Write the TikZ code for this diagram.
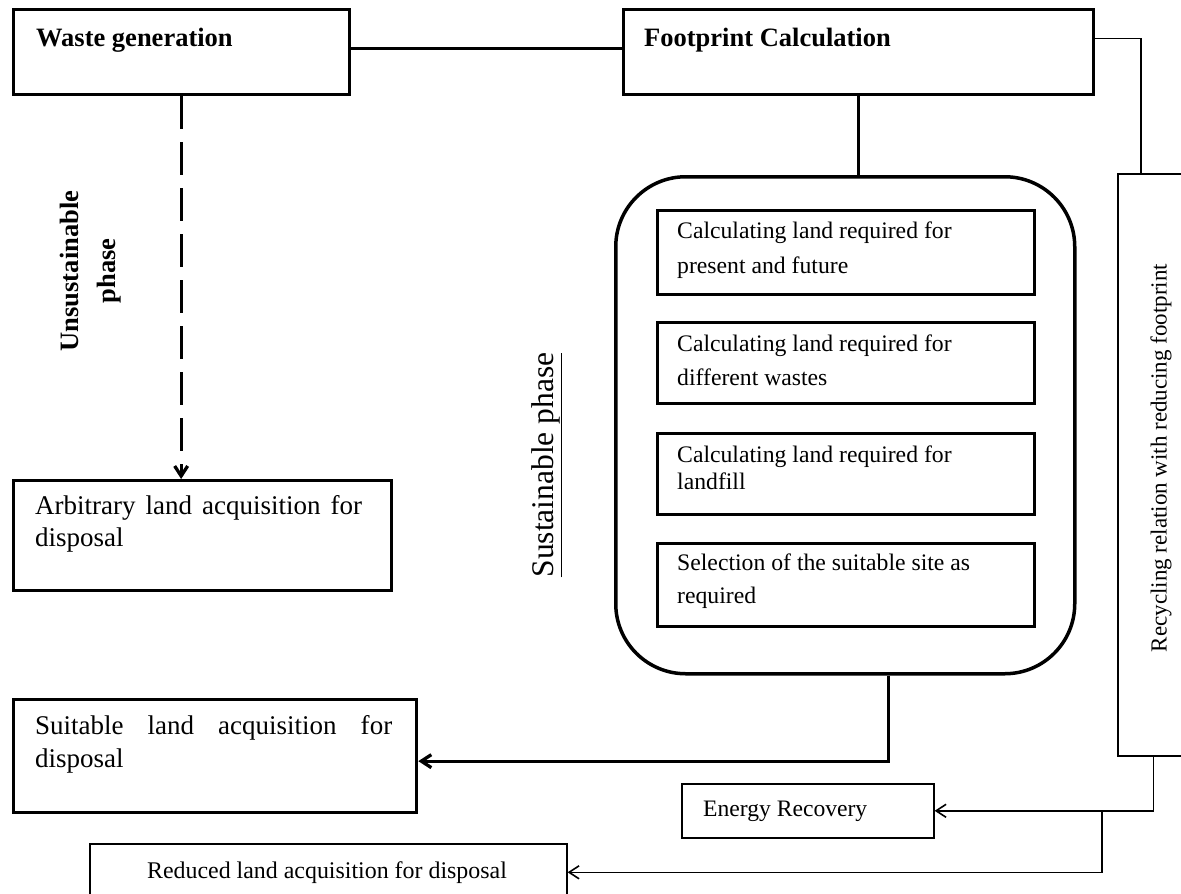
\documentclass[tikz,border=0pt]{standalone}
\usepackage{fontspec}
\setmainfont{Liberation Serif}
\usetikzlibrary{arrows.meta}
\begin{document}
\begin{tikzpicture}[x=1pt,y=-1pt,
  thickbox/.style={draw, line width=3.3pt, inner sep=0pt, anchor=north west},
  thinbox/.style={draw, line width=1.6pt, inner sep=0pt, anchor=north west},
  thickline/.style={line width=3.3pt},
  thinline/.style={line width=1.6pt},
  arr/.style={-{Straight Barb[length=10pt,width=13pt]}},
  boldtxt/.style={font=\fontsize{26.5}{37}\selectfont\bfseries},
  intxt/.style={anchor=west, align=left},
]
\useasboundingbox (0,0) rectangle (1181,894);

% boxes
\node[thickbox, minimum width=336pt, minimum height=85pt] (waste) at (11.5,8) {};
\node[thickbox, minimum width=470pt, minimum height=85pt] (foot) at (622,8) {};
\node[thinbox, minimum width=90pt, minimum height=582pt] (recyc) at (1117,173) {};
\node[draw, line width=3.5pt, inner sep=0pt, anchor=north west, rounded corners=70pt,
      minimum width=459pt, minimum height=497pt] (phase) at (614,175) {};
\node[thickbox, minimum width=377pt, minimum height=84pt] (in1) at (656,209) {};
\node[thickbox, minimum width=377pt, minimum height=81pt] (in2) at (656,321) {};
\node[thickbox, minimum width=377pt, minimum height=81pt] (in3) at (656,432) {};
\node[thickbox, minimum width=377pt, minimum height=83pt] (in4) at (656,542) {};
\node[thickbox, minimum width=378pt, minimum height=110pt] (arb) at (12,479) {};
\node[thickbox, minimum width=403pt, minimum height=113pt] (suit) at (12,698) {};
\node[thinbox, minimum width=252pt, minimum height=54pt] (energy) at (681,783) {};
\node[thinbox, minimum width=477pt, minimum height=57pt] (reduced) at (89,843) {};

% texts
\node[boldtxt, anchor=west, inner sep=0pt] (wasteT) at (36,40) {Waste generation};
\node[boldtxt, anchor=west, inner sep=0pt] (footT) at (644,40) {Footprint Calculation};
\node[intxt, inner sep=0pt, font=\fontsize{23.7}{35}\selectfont] (in1T) at (677,250)
  {Calculating land required for\\present and future};
\node[intxt, inner sep=0pt, font=\fontsize{23.7}{34}\selectfont] (in2T) at (677,360)
  {Calculating land required for\\different wastes};
\node[intxt, inner sep=0pt, font=\fontsize{23.7}{27}\selectfont] (in3T) at (677,468)
  {Calculating land required for\\landfill};
\node[intxt, inner sep=0pt, font=\fontsize{23.7}{33}\selectfont] (in4T) at (677,581)
  {Selection of the suitable site as\\required};
\node[boldtxt, rotate=90, align=center, inner sep=0pt] (unsT) at (91,271) {Unsustainable\\phase};
\node[rotate=90, inner sep=0pt, font=\fontsize{31.5}{36}\selectfont] (susT) at (547,465)
  {\underline{Sustainable phase}};
\node[rotate=90, inner sep=0pt, font=\fontsize{23}{27}\selectfont] (recT) at (1161,458)
  {Recycling relation with reducing footprint};
\node[intxt, inner sep=0pt, font=\fontsize{27}{32}\selectfont] (arbT) at (35,524)
  {\makebox[327pt][s]{Arbitrary land acquisition for}\\disposal};
\node[intxt, inner sep=0pt, font=\fontsize{27}{33}\selectfont] (suitT) at (35,744)
  {\makebox[357pt][s]{Suitable land acquisition for}\\disposal};
\node[anchor=west, inner sep=0pt, font=\fontsize{23.6}{28}\selectfont] (enT) at (703,811)
  {Energy Recovery};
\node[inner sep=0pt, font=\fontsize{23.9}{28}\selectfont] (redT) at (327,873)
  {Reduced land acquisition for disposal};

% connectors
\draw[thickline] ([yshift=3.5pt]waste.east) -- ([yshift=3.5pt]foot.west);
\draw[thickline] (foot.south) -- (foot.south |- phase.north);
\draw[thinline] ([yshift=13.5pt]foot.east) -| ([xshift=24pt]recyc.north west);
\draw[thickline, dash pattern=on 33pt off 13pt, arr] (waste.south) -- (waste.south |- arb.north);
\draw[thickline, arr] ([xshift=43.5pt]phase.south) |- ([yshift=-5pt]suit.east);
\draw[thinline, arr] ([xshift=-9.5pt]recyc.south) |- (energy.east);
\coordinate (jn) at (1102,0);
\draw[thinline, arr] (jn |- energy.east) |- (reduced.east);
\end{tikzpicture}
\end{document}
